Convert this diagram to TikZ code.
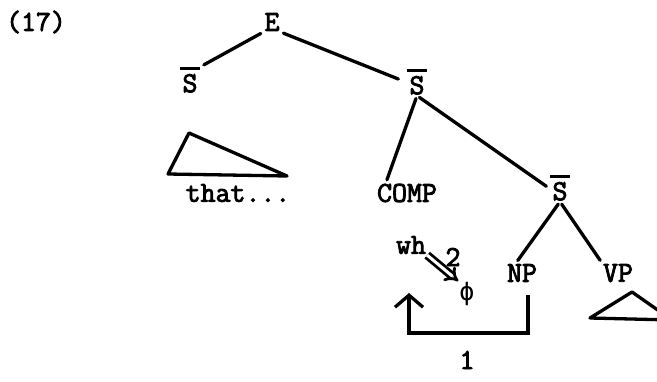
\documentclass[tikz,border=0pt]{standalone}
\usepackage{fontspec}
\newfontfamily\typew[FakeBold=3]{Latin Modern Mono}
\newfontfamily\grk{DejaVu Sans Mono}
\usetikzlibrary{arrows.meta,positioning,calc}
\newcommand{\Sbar}{\vbox{\hrule width 20pt height 2.6pt\kern 4pt\hbox to 20pt{\hss S\hss}}}
\tikzset{
  lbl/.style={inner sep=1pt, font=\typew\fontsize{29}{33}\selectfont},
  br/.style={line width=3.3pt, line cap=round, shorten <=3pt, shorten >=3pt},
  roof/.style={line width=3.3pt, line join=round},
  mvarr/.style={line width=3.3pt, -{Straight Barb[length=12pt, width=28pt, line width=3.3pt]}},
  dbl/.style={line width=2.8pt, double, double distance=3pt, -{Implies[length=9pt]}},
}
\begin{document}
\begin{tikzpicture}[x=1pt, y=-1pt]
  \useasboundingbox (0,0) rectangle (657,381);
  % labels
  \node[lbl] (ex) at (36,22) {(17)};
  \node[lbl] (E) at (272,22) {E};
  \node[lbl] (sL) at (190,80) {\Sbar};
  \node[lbl] (sR) at (417,82) {\Sbar};
  \node[lbl] (comp) at (407,193) {COMP};
  \node[lbl] (sLow) at (560,188) {\Sbar};
  \node[lbl] (np) at (522,273) {NP};
  \node[lbl] (vp) at (618,273) {VP};
  \node[lbl] (that) at (238,193) {that...};
  \node[lbl] (wh) at (411,245) {wh};
  \node[lbl] (two) at (453,257) {2};
  \node[lbl] (phi) at (467,294) {\grk\fontsize{25}{28}\selectfont ϕ};
  \node[lbl] (one) at (467,360) {1};
  % tree
  \draw[br] (E.south west) -- (sL.north east);
  \draw[br, shorten >=8pt] (E.south east) -- (sR.west);
  \draw[br] (sR.south) -- ([xshift=10pt]comp.north west);
  \draw[br] (sR.south) -- (sLow.west);
  \draw[br] (sLow.south) -- ([xshift=-6pt]np.north);
  \draw[br] (sLow.south) -- (vp.north west);
  % roofs
  \draw[roof] (189,133) -- (168,174) -- (287,176) -- cycle;
  \draw[roof] (632,292) -- (590,318) -- (672,320) -- cycle;
  % movement
  \coordinate (mvTop) at ([xshift=6pt, yshift=-12pt]np.south);
  \coordinate (mvEnd) at (409,293);
  \draw[mvarr] (mvTop) -- ++(0,38) -| (mvEnd);
  \draw[dbl] (wh.south east) -- (phi.north west);
\end{tikzpicture}
\end{document}
